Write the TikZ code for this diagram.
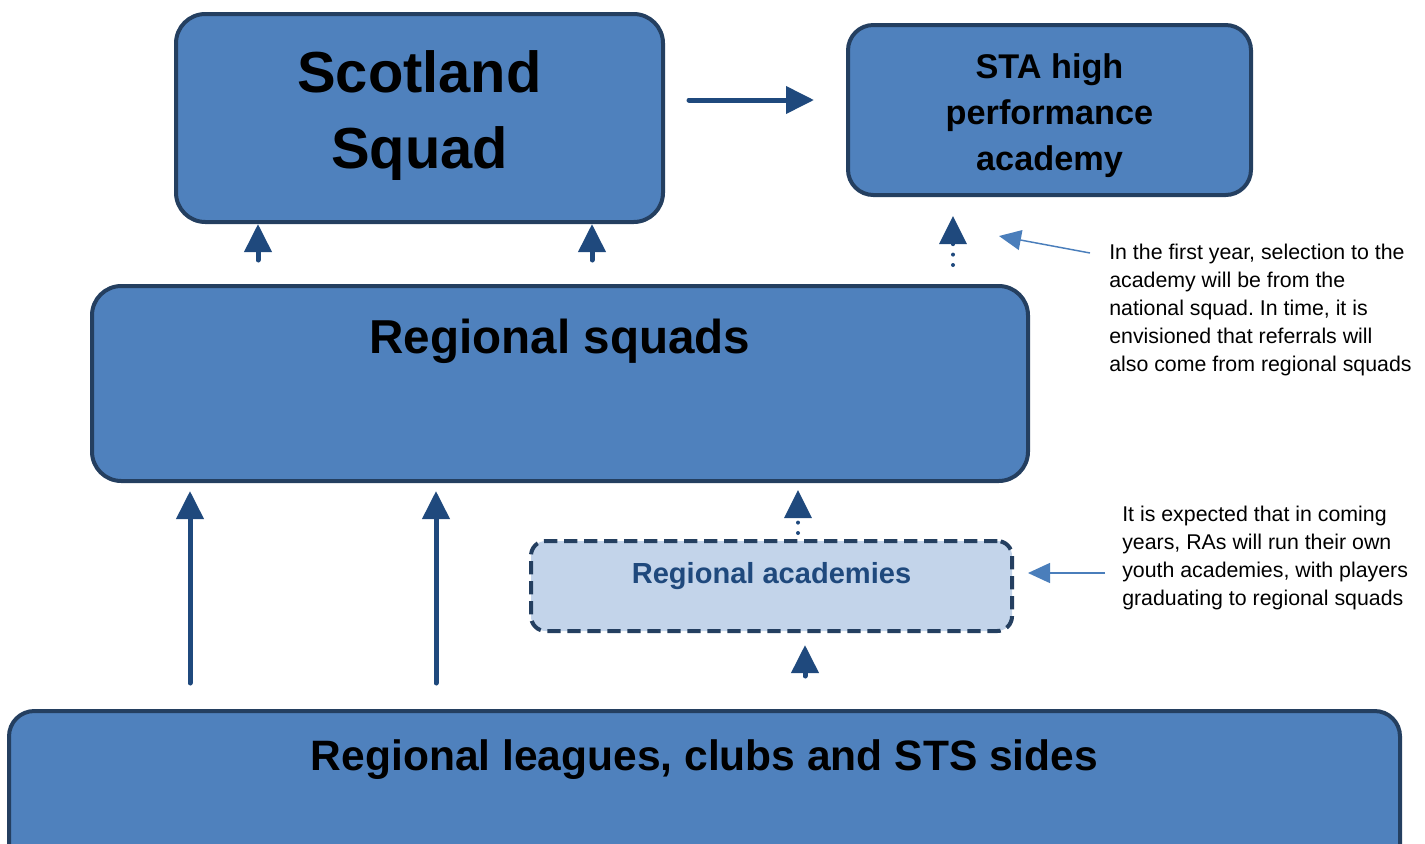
\documentclass[tikz,border=0pt]{standalone}
\usepackage{fontspec}
\setmainfont{Liberation Sans}
\usetikzlibrary{arrows.meta}
\definecolor{boxfill}{HTML}{4F81BD}
\definecolor{boxline}{HTML}{243F60}
\definecolor{arrowblue}{HTML}{1F497D}
\definecolor{acadfill}{HTML}{C3D4EA}
\definecolor{notearrow}{HTML}{4A7EBB}
\frenchspacing

\begin{document}
\begin{tikzpicture}[x=0.75pt,y=-0.75pt,
  box/.style={draw=boxline, line width=3pt, fill=boxfill, rounded corners=#1, inner sep=0pt},
  box/.default=22pt,
  acadbox/.style={draw=boxline, line width=3pt, fill=acadfill, rounded corners=11pt,
    inner sep=0pt, dash pattern=on 10pt off 5pt},
  title/.style={font=\bfseries\fontsize{#1}{#1}\selectfont, inner sep=0pt, align=center},
  uparrow/.style={draw=arrowblue, line width=3.75pt, line cap=round,
    -{Triangle[length=21pt,width=20pt]}},
  dotarrow/.style={uparrow, line width=3pt, dash pattern=on 0pt off 7.8pt},
  pointer/.style={draw=notearrow, line width=1.1pt,
    -{Triangle[length=16.5pt,width=15pt]}},
  note/.style={font=\fontsize{16pt}{21pt}\selectfont, inner sep=0pt, align=left, anchor=north west}]

\useasboundingbox (0,0) rectangle (1425,843);
\clip (0,0) rectangle (1425,843);

% boxes
\node[box, minimum width=365.25pt, minimum height=156pt] (scot) at (419.5,118) {};
\node[box=19pt, minimum width=302.25pt, minimum height=127.5pt] (sta) at (1049.5,110) {};
\node[box, minimum width=702pt, minimum height=146.25pt] (reg) at (560,383.5) {};
\node[acadbox, minimum width=360.75pt, minimum height=67.5pt] (acad) at (771.5,586) {};
\node[box=19pt, minimum width=1043.25pt, minimum height=141.75pt] (base) at (704.5,805.5) {};

% box labels
\node[title=43.4pt, font=\bfseries\fontsize{43.4pt}{57pt}\selectfont, anchor=north] (scottxt) at (419.5,50) {Scotland\\Squad};
\node[title=25.7pt, font=\bfseries\fontsize{25.7pt}{34.5pt}\selectfont, anchor=north] (statxt) at (1049.5,53) {STA high\\performance\\academy};
\node[title=35.7pt, anchor=base] (regtxt) at (560,353) {Regional squads};
\node[title=21.8pt, text=arrowblue, anchor=base] (acadtxt) at (771.5,583.5) {Regional academies};
\node[title=31.9pt, anchor=base] (basetxt) at (704.5,770) {Regional leagues, clubs and STS sides};

% annotations
\node[note] (note1) at (1109,244) {In the first year, selection to the\\academy will be from the\\national squad. In time, it is\\envisioned that referrals will\\also come from regional squads};
\node[note] (note2) at (1122,506) {It is expected that in coming\\years, RAs will run their own\\youth academies, with players\\graduating to regional squads};

% connector anchors
\coordinate (r0) at (689,100);
\coordinate (r1) at (814,100);
\coordinate (s1) at (258,260);
\coordinate (s2) at (592,260);
\coordinate (h0) at (953,265);
\coordinate (h1) at (953,216);
\coordinate (b1) at (190,683);
\coordinate (b2) at (436,683);
\coordinate (a0) at (798,533);
\coordinate (a1) at (798,490);
\coordinate (c0) at (805,676);
\coordinate (c1) at (805,645);
\coordinate (p1) at (1090,253);
\coordinate (p1t) at (999,236);
\coordinate (p2) at (1105,573);
\coordinate (p2t) at (1028,573);

% connectors
\draw[uparrow] (r0) -- (r1);
\draw[uparrow] (s1) -- (scot.south -| s1);
\draw[uparrow] (s2) -- (scot.south -| s2);
\draw[dotarrow] (h0) -- (h1);
\draw[uparrow] (b1) -- (b1 |- 0,491);
\draw[uparrow] (b2) -- (b2 |- 0,491);
\draw[dotarrow] (a0) -- (a1);
\draw[uparrow] (c0) -- (c1);
\draw[pointer] (p1) -- (p1t);
\draw[pointer] (p2) -- (p2t);
\end{tikzpicture}
\end{document}
